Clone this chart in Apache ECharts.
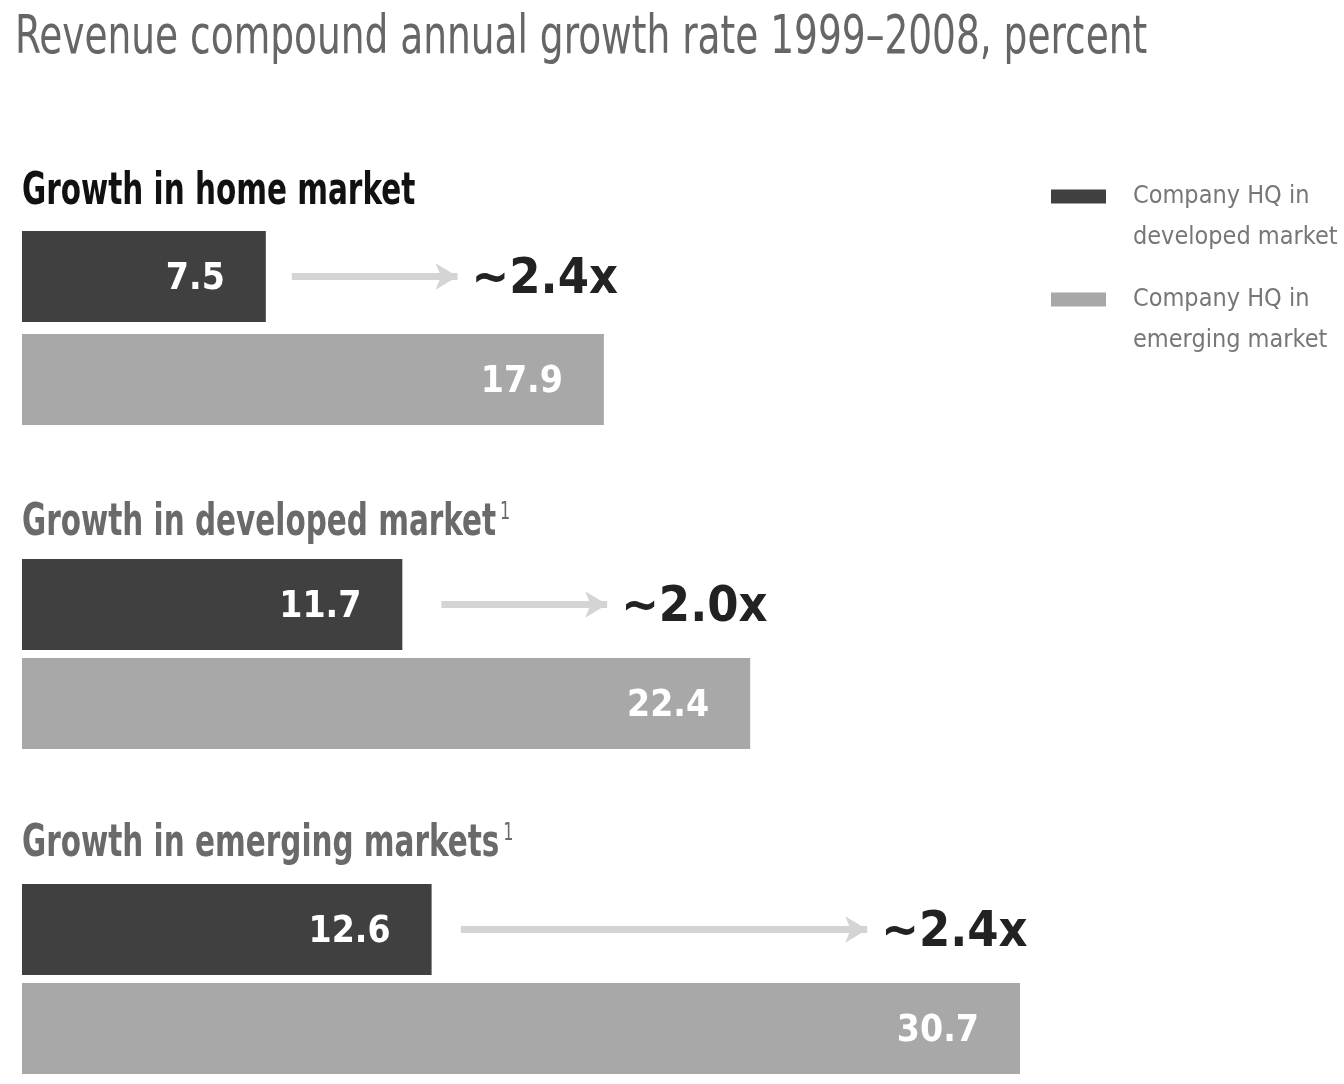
<!DOCTYPE html>
<html>
<head>
<meta charset="utf-8">
<script src="https://cdn.jsdelivr.net/npm/echarts@6/dist/echarts.min.js"></script>
<style>
html,body{margin:0;padding:0;background:#fff;}
#chart{width:1344px;height:1084px;}
</style>
</head>
<body>
<div id="chart"></div>
<script>
// ---- data ----
const chartTitle = 'Revenue compound annual growth rate 1999\u20132008, percent';
const sections = ['Growth in home market', 'Growth in developed market', 'Growth in emerging markets'];
const sectionSup = ['', '1', '1'];
const seriesNames = ['Company HQ in\ndeveloped market', 'Company HQ in\nemerging market'];
const developedHQ = [7.5, 11.7, 12.6];
const emergingHQ = [17.9, 22.4, 30.7];
const ratioLabels = ['~2.4x', '~2.0x', '~2.4x'];
const arrowStart = [8.3, 12.9, 13.5];
const arrowEnd = [13.4, 18.0, 26.0];
const rowCats = ['developed', 'emerging'];

const FONT = "'Liberation Sans Narrow', 'DejaVu Sans Condensed', 'Arial Narrow', sans-serif";
const DARK = '#404040', LIGHT = '#a8a8a8';
const xMax = Math.max(...emergingHQ);

const gridTops = [225, 555, 880];
const gridHeights = [206, 198, 198];

const grids = [], xAxes = [], yAxes = [], series = [], graphics = [];

graphics.push({
  type: 'text', left: 15, top: 12, scaleX: 0.772,
  style: {text: chartTitle, font: 'normal 54px ' + FONT, fill: '#666666'}
});

for (let i = 0; i < 3; i++) {
  grids.push({left: 22, width: 998, top: gridTops[i], height: gridHeights[i]});
  xAxes.push({type: 'value', gridIndex: i, min: 0, max: xMax, show: false});
  yAxes.push({type: 'category', gridIndex: i, data: rowCats, inverse: true, show: false});
  const labelStyle = {
    show: true, position: 'insideRight', distance: 41, offset: [0, 3],
    color: '#ffffff', fontFamily: FONT, fontWeight: 'bold', fontSize: 37
  };
  series.push({
    name: seriesNames[0], type: 'bar', xAxisIndex: i, yAxisIndex: i,
    data: [developedHQ[i], '-'], barWidth: 91, barGap: '-100%',
    itemStyle: {color: DARK}, label: labelStyle, silent: true,
    markLine: {
      silent: true, symbol: ['none', 'arrow'], symbolSize: [20, 22],
      lineStyle: {color: '#d4d4d4', width: 7, type: 'solid'},
      label: {
        show: true, position: 'end', distance: 14, offset: [0, 4], formatter: ratioLabels[i],
        fontFamily: FONT, fontWeight: 'bold', fontSize: 50, color: '#222222'
      },
      data: [[{coord: [arrowStart[i], rowCats[0]]}, {coord: [arrowEnd[i], rowCats[0]]}]]
    }
  });
  series.push({
    name: seriesNames[1], type: 'bar', xAxisIndex: i, yAxisIndex: i,
    data: ['-', emergingHQ[i]], barWidth: 91, barGap: '-100%',
    itemStyle: {color: LIGHT}, label: labelStyle, silent: true
  });
  const tColor = i === 0 ? '#111111' : '#6a6a6a';
  graphics.push({
    type: 'text', left: 22, top: [171, 501, 822][i], scaleX: 0.745,
    style: {
      text: '{t|' + sections[i] + '}' + (sectionSup[i] ? '{s|' + sectionSup[i] + '}' : ''),
      rich: {
        t: {font: 'bold 44px ' + FONT, fill: tColor},
        s: {font: 'normal 24px ' + FONT, fill: '#6a6a6a', verticalAlign: 'top', padding: [0, 0, 22, 5]}
      }
    }
  });
}

const chart = echarts.init(document.getElementById('chart'), null, {renderer: 'canvas'});
chart.setOption({
  animation: false,
  graphic: graphics,
  legend: {
    orient: 'vertical', left: 1046, top: 171,
    itemWidth: 55, itemHeight: 55, itemGap: 21,
    icon: 'path://M0,0h55v14h-55zM0,55h0.01v0.01h-0.01z',
    selectedMode: false,
    textStyle: {fontFamily: FONT, fontSize: 25, color: '#777777', lineHeight: 41, padding: [0, 0, 0, 22]},
    data: [
      {name: seriesNames[0], itemStyle: {color: DARK}},
      {name: seriesNames[1], itemStyle: {color: LIGHT}}
    ]
  },
  grid: grids, xAxis: xAxes, yAxis: yAxes, series: series
});
</script>
</body>
</html>
